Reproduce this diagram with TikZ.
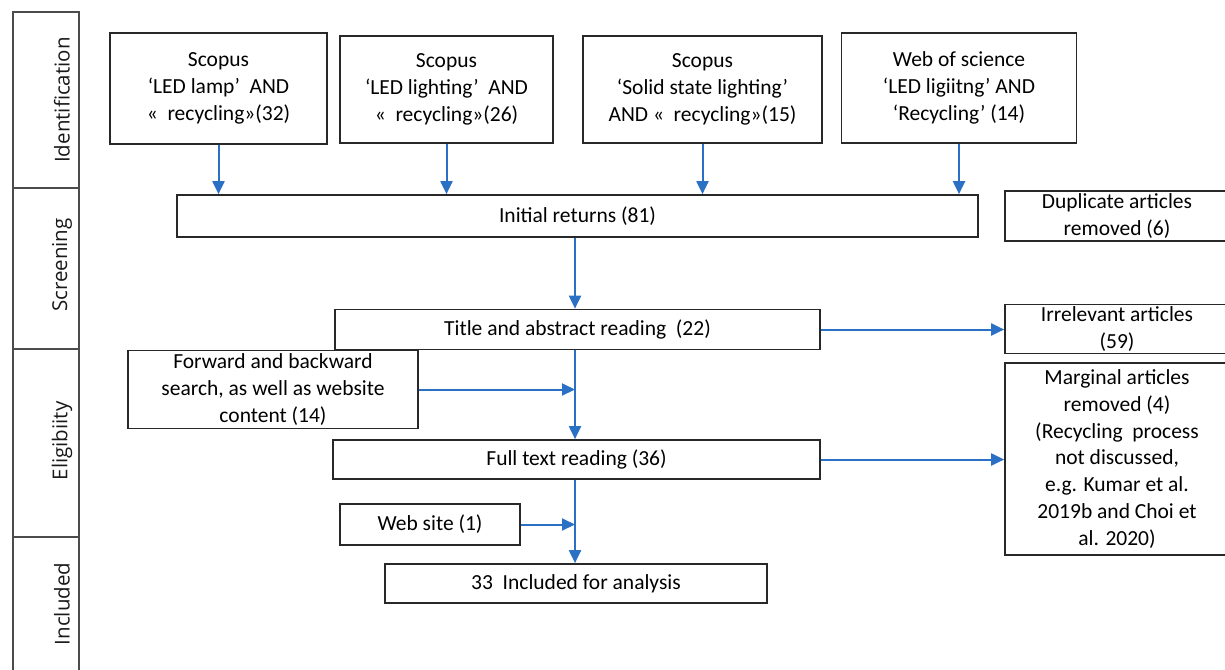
\documentclass[tikz,border=0pt]{standalone}
\usepackage{fontspec}
\setmainfont{Carlito}
\newfontfamily\stagefont{Open Sans}
\usetikzlibrary{arrows.meta}
\definecolor{arrowblue}{RGB}{42,112,196}
\definecolor{boxline}{RGB}{40,40,40}
\tikzset{
  box/.style={draw=boxline, line width=1.7pt, fill=white, align=center, inner sep=2pt,
    font=\fontsize{21.5}{26.8}\selectfont},
  stagelabel/.style={rotate=90, font=\stagefont\fontsize{20.5}{24}\selectfont, text=black!90},
  flow/.style={draw=arrowblue, line width=2pt, -{Triangle[length=13pt,width=12pt]}},
  frame/.style={draw=black!70, line width=1.6pt}
}
\begin{document}
\begin{tikzpicture}[x=1pt,y=-1pt]
\useasboundingbox (0,0) rectangle (1225,669);
% stage column
\draw[frame] (13,680) -- (13,12) -- (79,12) -- (79,680);
\draw[frame] (13,188) -- (79,188);
\draw[frame] (13,349) -- (79,349);
\draw[frame] (13,537) -- (79,537);
\node[stagelabel] (sid) at (62,100) {Identification};
\node[stagelabel] (ssc) at (62,265) {Screening};
\node[stagelabel] (sel) at (62,441) {Eligibiity};
\node[stagelabel] (sin) at (62,604) {Included};
% identification boxes
\node[box, minimum width=217pt, minimum height=111pt] (b1) at (218.5,88.5) {Scopus\\‘LED lamp’\ \ AND\\«\ \ recycling»(32)};
\node[box, minimum width=213pt, minimum height=107pt] (b2) at (446.5,89.5) {Scopus\\‘LED lighting’\ \ AND\\«\ \ recycling»(26)};
\node[box, minimum width=239pt, minimum height=107pt] (b3) at (702.5,89.5) {Scopus\\‘Solid state lighting’\\AND «\ \ recycling»(15)};
\node[box, minimum width=235pt, minimum height=110pt] (b4) at (959,88) {Web of science\\‘LED ligiitng’ AND\\‘Recycling’ (14)};
% screening
\node[box, minimum width=801pt, minimum height=42pt] (ir) at (577.5,216) {Initial returns (81)};
\node[box, minimum width=224pt, minimum height=50pt] (dup) at (1117,216) {Duplicate articles\\removed (6)};
\node[box, minimum width=485pt, minimum height=40pt] (ta) at (577.5,329.5) {Title and abstract reading\ \ (22)};
\node[box, minimum width=224pt, minimum height=48pt] (irr) at (1117,329) {Irrelevant articles\\(59)};
% eligibility
\node[box, minimum width=290pt, minimum height=78pt] (fb) at (273,389.5) {Forward and backward\\search, as well as website\\content (14)};
\node[box, minimum width=487pt, minimum height=39pt] (ft) at (576.5,459.5) {Full text reading (36)};
\node[box, minimum width=224pt, minimum height=192pt] (mar) at (1117,459) {Marginal articles\\removed (4)\\(Recycling\ \ process\\not discussed,\\e.g. Kumar et al.\\2019b and Choi et\\al. 2020)};
\node[box, minimum width=180pt, minimum height=41pt] (ws) at (430,524.5) {Web site (1)};
% included
\node[box, minimum width=382pt, minimum height=39pt] (inc) at (576,583.5) {33\ \ Included for analysis};
% coordinates on the main line
\coordinate (j1) at (575,389.5);
\coordinate (j2) at (575,524.5);
% connectors
\draw[flow] (b1.south) -- (b1.south |- ir.north);
\draw[flow] (b2.south) -- (b2.south |- ir.north);
\draw[flow] (b3.south) -- (b3.south |- ir.north);
\draw[flow] (b4.south) -- (b4.south |- ir.north);
\draw[flow] (ir.south -| j1) -- (ta.north -| j1);
\draw[flow] (ta.east) -- (irr.west |- ta.east);
\draw[flow] (ta.south -| j1) -- (ft.north -| j1);
\draw[flow] (fb.east) -- (j1);
\draw[flow] (ft.east) -- (mar.west |- ft.east);
\draw[flow] (ft.south -| j2) -- (inc.north -| j2);
\draw[flow] (ws.east) -- (j2);
\end{tikzpicture}
\end{document}
